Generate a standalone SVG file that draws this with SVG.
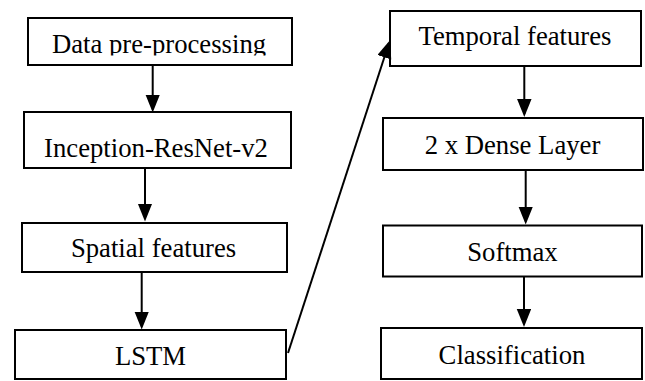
<svg xmlns="http://www.w3.org/2000/svg" width="645" height="381" viewBox="0 0 645 381">
  <style>
    .box { fill: #ffffff; stroke: #000000; stroke-width: 2; }
    .lbl { font-family: "Liberation Serif", "Times New Roman", serif; font-size: 26.7px; fill: #000000; text-anchor: middle; }
    .conn { stroke: #000000; stroke-width: 2; fill: none; marker-end: url(#ah); }
  </style>
  <defs>
    <marker id="ah" markerUnits="userSpaceOnUse" markerWidth="19" markerHeight="15" refX="15" refY="7.25" orient="auto">
      <path d="M0,0 L18,7.25 L0,14.5 z" fill="#000000"/>
    </marker>
    <clipPath id="clip1">
      <rect x="28" y="18" width="264" height="37.5"/>
    </clipPath>
  </defs>
  <rect width="645" height="381" fill="#ffffff"/>

  <g id="node-data-preprocessing">
    <rect class="box" x="28" y="18" width="264" height="47"/>
    <text class="lbl" x="159" y="53" clip-path="url(#clip1)">Data pre-processing</text>
  </g>
  <g id="node-inception">
    <rect class="box" x="24" y="112" width="267" height="56"/>
    <text class="lbl" x="156" y="157">Inception-ResNet-v2</text>
  </g>
  <g id="node-spatial">
    <rect class="box" x="22" y="223" width="265" height="49"/>
    <text class="lbl" x="153.5" y="256.5">Spatial features</text>
  </g>
  <g id="node-lstm">
    <rect class="box" x="15" y="330" width="271" height="49"/>
    <text class="lbl" x="150.5" y="365">LSTM</text>
  </g>
  <g id="node-temporal">
    <rect class="box" x="390" y="11" width="251" height="55"/>
    <text class="lbl" x="515" y="44.5">Temporal features</text>
  </g>
  <g id="node-dense">
    <rect class="box" x="383" y="118" width="260" height="52"/>
    <text class="lbl" x="512.5" y="154">2 x Dense Layer</text>
  </g>
  <g id="node-softmax">
    <rect class="box" x="383" y="225.5" width="259" height="51"/>
    <text class="lbl" x="512.5" y="260.5">Softmax</text>
  </g>
  <g id="node-classification">
    <rect class="box" x="381" y="328" width="261" height="51"/>
    <text class="lbl" x="512" y="363.5">Classification</text>
  </g>

  <g id="connectors">
    <line class="conn" x1="152.7" y1="66" x2="152.7" y2="109.5"/>
    <line class="conn" x1="145" y1="169" x2="145" y2="218.5"/>
    <line class="conn" x1="141.7" y1="273" x2="141.7" y2="326.5"/>
    <line class="conn" x1="288" y1="353" x2="389" y2="43"/>
    <line class="conn" x1="524.3" y1="67" x2="524.3" y2="114"/>
    <line class="conn" x1="525.7" y1="171" x2="525.7" y2="221.5"/>
    <line class="conn" x1="524" y1="277" x2="524" y2="324"/>
  </g>
</svg>
